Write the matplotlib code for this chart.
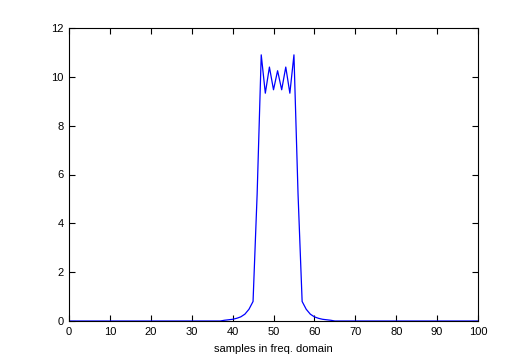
import numpy as np
import matplotlib
matplotlib.use("Agg")
import matplotlib.pyplot as plt

# Half-profile of the symmetric spectrum, offsets from the centre sample (51)
center = 51
half_values = [10.25, 9.47, 10.4, 9.33, 10.9, 5.2, 0.8, 0.48, 0.28,
               0.17, 0.11, 0.07, 0.05, 0.03, 0.0]
n_samples = 101

x_ticks = [0, 10, 20, 30, 40, 50, 60, 70, 80, 90, 100]
y_ticks = [0, 2, 4, 6, 8, 10, 12]
x_label = "samples in freq. domain"

x = np.arange(n_samples)
y = np.zeros(n_samples)
for d, v in enumerate(half_values):
    y[center - d] = v
    y[center + d] = v

plt.rcParams['font.family'] = ['Liberation Sans', 'DejaVu Sans']
fig = plt.figure(figsize=(5.29, 3.62), dpi=100)
ax = fig.add_axes([69/529, 41/362, (478-69)/529, (321-28)/362])
ax.plot(x, y, color=(0, 0, 1), linewidth=0.9)
ax.set_xlim(0, 100)
ax.set_ylim(0, 12)
ax.set_xticks(x_ticks)
ax.set_yticks(y_ticks)
ax.tick_params(direction='in', top=True, right=True, length=4, width=0.8,
               labelsize=8, pad=4)
for s in ax.spines.values():
    s.set_linewidth(0.8)
ax.set_xlabel(x_label, fontsize=8, labelpad=5)
fig.savefig("out.png", dpi=100)
